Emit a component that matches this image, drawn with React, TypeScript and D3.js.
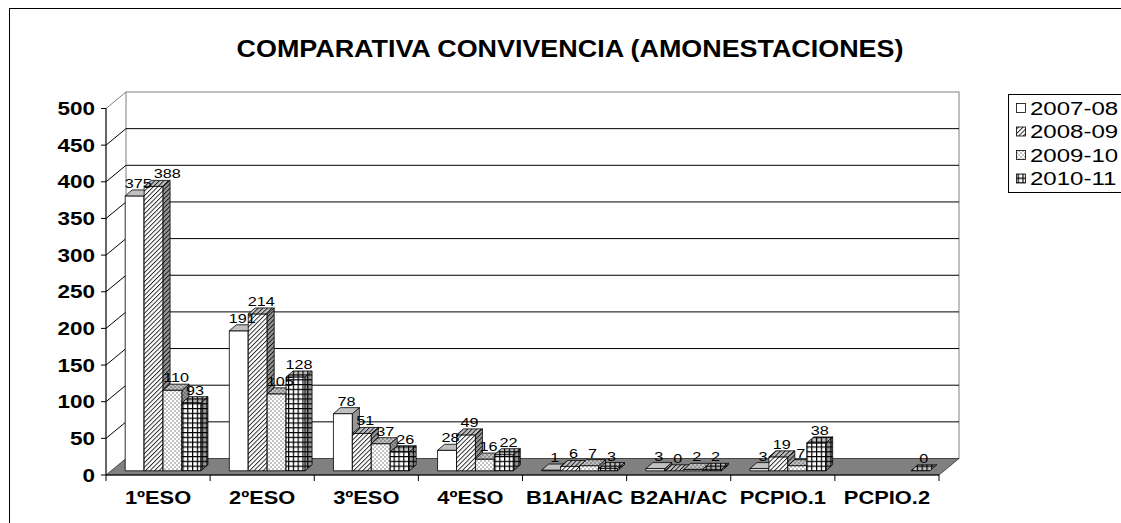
import React, { useRef, useEffect } from "react";
import * as d3 from "d3";

const categories = ["1ºESO", "2ºESO", "3ºESO", "4ºESO", "B1AH/AC", "B2AH/AC", "PCPIO.1", "PCPIO.2"];
const seriesNames = ["2007-08", "2008-09", "2009-10", "2010-11"];
const values0708 = [375, 191, 78, 28, 1, 3, 3, null];
const values0809 = [388, 214, 51, 49, 6, 0, 19, null];
const values0910 = [110, 105, 37, 16, 7, 2, 7, null];
const values1011 = [93, 128, 26, 22, 3, 2, 38, 0];
const yTicks = [0, 50, 100, 150, 200, 250, 300, 350, 400, 450, 500];
const chartTitle = "COMPARATIVA CONVIVENCIA (AMONESTACIONES)";

const App = () => {
  const svgRef = useRef(null);

  useEffect(() => {
    const svg = d3.select(svgRef.current);
    svg.selectAll("*").remove();

    const font = "'Liberation Sans', Arial, sans-serif";
    const stretch = 1.25; // the original picture is wider than tall, text looks stretched

    // front plane of the plot and the 3d offsets
    const left = 106, right = 939, bottom = 475, top = 108.5;
    const wall = { dx: 20, dy: 16.5 };
    const barShift = { dx: 5, dy: 4.2 };
    const barDepth = { dx: 7, dy: 6 };

    const x = d3.scaleBand().domain(categories).range([left, right]);
    const xs = d3.scaleBand().domain(seriesNames).range([0, x.bandwidth()]).paddingOuter(0.75);
    const y = d3.scaleLinear().domain([0, 500]).range([bottom, top]);
    const series = [values0708, values0809, values0910, values1011];

    // patterns: one per series and face
    const faces = { front: "#ffffff", top: "#c0c0c0", side: "#969696" };
    const defs = svg.append("defs");
    Object.entries(faces).forEach(([face, bg]) => {
      const h = defs.append("pattern").attr("id", "hatch-" + face)
        .attr("patternUnits", "userSpaceOnUse").attr("width", 3.2).attr("height", 3.2)
        .attr("patternTransform", "rotate(45)");
      h.append("rect").attr("width", 3.2).attr("height", 3.2).attr("fill", bg);
      h.append("line").attr("x1", 0.5).attr("y1", 0).attr("x2", 0.5).attr("y2", 3.2)
        .attr("stroke", "#000").attr("stroke-width", 0.8);

      const d = defs.append("pattern").attr("id", "dots-" + face)
        .attr("patternUnits", "userSpaceOnUse").attr("width", 4).attr("height", 4);
      d.append("rect").attr("width", 4).attr("height", 4).attr("fill", bg);
      d.append("rect").attr("x", 0.5).attr("y", 0.5).attr("width", 1).attr("height", 1).attr("fill", "#111");
      d.append("rect").attr("x", 2.5).attr("y", 2.5).attr("width", 1).attr("height", 1).attr("fill", "#111");

      const g = defs.append("pattern").attr("id", "grid-" + face)
        .attr("patternUnits", "userSpaceOnUse").attr("width", 4.8).attr("height", 4.8);
      g.append("rect").attr("width", 4.8).attr("height", 4.8).attr("fill", bg);
      g.append("path").attr("d", "M0,0.6H4.8M0.6,0V4.8")
        .attr("stroke", "#000").attr("stroke-width", 1.2);
    });
    const fillFor = (si, face) => {
      if (si === 0) return faces[face];
      const name = ["", "hatch", "dots", "grid"][si];
      return "url(#" + name + "-" + face + ")";
    };

    svg.append("rect").attr("width", 1121).attr("height", 523).attr("fill", "#fff");

    // outer frame
    svg.append("rect").attr("x", 9.5).attr("y", 8.5).attr("width", 1200).attr("height", 600)
      .attr("fill", "none").attr("stroke", "#000").attr("stroke-width", 1);

    // title
    svg.append("text")
      .attr("transform", "translate(570,57) scale(1.17,1)")
      .attr("text-anchor", "middle")
      .style("font-family", font).style("font-size", "23px").style("font-weight", "bold")
      .text(chartTitle);

    // back wall
    svg.append("rect")
      .attr("x", left + wall.dx).attr("y", top - wall.dy)
      .attr("width", right - left).attr("height", bottom - top)
      .attr("fill", "#fff").attr("stroke", "#808080").attr("stroke-width", 1);

    // gridlines on back wall and side wall
    yTicks.filter((t) => t > 0 && t < 500).forEach((t) => {
      svg.append("line")
        .attr("x1", left + wall.dx).attr("x2", right + wall.dx)
        .attr("y1", y(t) - wall.dy).attr("y2", y(t) - wall.dy)
        .attr("stroke", "#000").attr("stroke-width", 1);
      svg.append("line")
        .attr("x1", left).attr("x2", left + wall.dx)
        .attr("y1", y(t)).attr("y2", y(t) - wall.dy)
        .attr("stroke", "#000").attr("stroke-width", 1);
    });
    svg.append("line")
      .attr("x1", left).attr("x2", left + wall.dx)
      .attr("y1", y(500)).attr("y2", y(500) - wall.dy)
      .attr("stroke", "#808080").attr("stroke-width", 1);

    // floor
    svg.append("polygon")
      .attr("points", [
        [left, bottom], [right, bottom],
        [right + wall.dx, bottom - wall.dy], [left + wall.dx, bottom - wall.dy],
      ].map((p) => p.join(",")).join(" "))
      .attr("fill", "#808080").attr("stroke", "#333").attr("stroke-width", 0.8);

    // y axis
    svg.append("line").attr("x1", left).attr("x2", left).attr("y1", top).attr("y2", bottom)
      .attr("stroke", "#000").attr("stroke-width", 1.2);
    yTicks.forEach((t) => {
      svg.append("line").attr("x1", left - 5).attr("x2", left)
        .attr("y1", y(t)).attr("y2", y(t)).attr("stroke", "#000");
      svg.append("text")
        .attr("transform", "translate(95," + (y(t) + 6.5) + ") scale(" + stretch + ",1)")
        .attr("text-anchor", "end")
        .style("font-family", font).style("font-size", "18px").style("font-weight", "bold")
        .text(t);
    });

    // x axis
    svg.append("line").attr("x1", left).attr("x2", right).attr("y1", bottom).attr("y2", bottom)
      .attr("stroke", "#000").attr("stroke-width", 1.2);
    categories.concat(["end"]).forEach((c, i) => {
      const xt = i < categories.length ? x(c) : right;
      svg.append("line").attr("x1", xt).attr("x2", xt).attr("y1", bottom).attr("y2", bottom + 6)
        .attr("stroke", "#000");
    });
    categories.forEach((c) => {
      svg.append("text")
        .attr("transform", "translate(" + (x(c) + x.bandwidth() / 2) + ",503.5) scale(" + stretch + ",1)")
        .attr("text-anchor", "middle")
        .style("font-family", font).style("font-size", "17.5px").style("font-weight", "bold")
        .text(c);
    });

    // bars
    const labels = [];
    categories.forEach((c, ci) => {
      series.forEach((vals, si) => {
        const v = vals[ci];
        if (v === null || v === undefined) return;
        const bx0 = x(c) + xs(seriesNames[si]) + barShift.dx;
        const bx1 = bx0 + xs.bandwidth();
        const yb = y(0) - barShift.dy;
        const yt = y(v) - barShift.dy;
        const g = svg.append("g").attr("stroke", "#000").attr("stroke-width", 0.8)
          .attr("stroke-linejoin", "round");
        if (yb - yt > 0) {
          g.append("rect").attr("x", bx0).attr("y", yt).attr("width", bx1 - bx0).attr("height", yb - yt)
            .attr("fill", fillFor(si, "front"));
          g.append("polygon")
            .attr("points", [
              [bx1, yt], [bx1 + barDepth.dx, yt - barDepth.dy],
              [bx1 + barDepth.dx, yb - barDepth.dy], [bx1, yb],
            ].map((p) => p.join(",")).join(" "))
            .attr("fill", fillFor(si, "side"));
        }
        g.append("polygon")
          .attr("points", [
            [bx0, yt], [bx1, yt],
            [bx1 + barDepth.dx, yt - barDepth.dy], [bx0 + barDepth.dx, yt - barDepth.dy],
          ].map((p) => p.join(",")).join(" "))
          .attr("fill", fillFor(si, "top"));
        labels.push({ ci, v, cx: (bx0 + bx1) / 2 + barDepth.dx / 2, by: yt - barDepth.dy - 2 });
      });
    });

    // data labels, pushed right when they would collide with the previous one
    const labelSize = 13.5, labelStretch = 1.2, textH = 10;
    let prev = null;
    labels.forEach((l) => {
      const w = String(l.v).length * 0.556 * labelSize * labelStretch;
      let x0 = l.cx - w / 2;
      if (prev && prev.ci === l.ci) {
        const overlapY = Math.abs(prev.by - l.by) < textH + 1;
        if (overlapY && x0 < prev.x1 + 2) x0 = prev.x1 + 2;
      }
      prev = { ci: l.ci, by: l.by, x1: x0 + w };
      svg.append("text")
        .attr("transform", "translate(" + (x0 + w / 2) + "," + l.by + ") scale(" + labelStretch + ",1)")
        .attr("text-anchor", "middle")
        .style("font-family", font).style("font-size", labelSize + "px")
        .text(l.v);
    });

    // legend
    svg.append("rect").attr("x", 1008.5).attr("y", 94.5).attr("width", 200).attr("height", 98)
      .attr("fill", "#fff").attr("stroke", "#000").attr("stroke-width", 1);
    seriesNames.forEach((name, si) => {
      const cy = 108 + si * 23.5;
      svg.append("rect").attr("x", 1016.5).attr("y", cy - 4.5).attr("width", 9).attr("height", 9)
        .attr("fill", fillFor(si, "front")).attr("stroke", "#000").attr("stroke-width", 0.8);
      svg.append("text")
        .attr("transform", "translate(1030," + (cy + 6.5) + ") scale(1.3,1)")
        .style("font-family", font).style("font-size", "18.5px")
        .text(name);
    });
  }, []);

  return (
    <svg
      ref={svgRef}
      width={1121}
      height={523}
      style={{ position: "absolute", left: 0, top: 0, display: "block" }}
    />
  );
};

export default App;
